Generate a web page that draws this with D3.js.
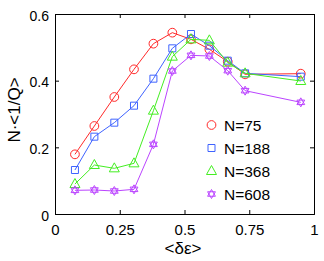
<!DOCTYPE html>
<html>
<head>
<meta charset="utf-8">
<script src="https://cdn.jsdelivr.net/npm/d3@7"></script>
<style>
  body { margin: 0; background: #fff; }
  text { font-family: "Liberation Sans", Arial, sans-serif; }
</style>
</head>
<body>
<svg width="324" height="261"></svg>
<script>
// x positions shared by every series
var xValues = [0.077, 0.152, 0.229, 0.305, 0.38, 0.453, 0.525, 0.596, 0.667, 0.734, 0.949];
var seriesNames = ["N=75", "N=188", "N=368", "N=608"];
var n75  = [0.179, 0.264, 0.351, 0.434, 0.511, 0.544, 0.524, 0.494, 0.457, 0.419, 0.421];
var n188 = [0.132, 0.232, 0.274, 0.325, 0.406, 0.497, 0.540, 0.505, 0.460, 0.422, 0.412];
var n368 = [0.090, 0.147, 0.137, 0.152, 0.310, 0.472, 0.524, 0.521, 0.454, 0.422, 0.399];
var n608 = [0.071, 0.072, 0.069, 0.074, 0.209, 0.429, 0.476, 0.474, 0.430, 0.370, 0.335];
var xTicks = [0, 0.25, 0.5, 0.75, 1];
var yTicks = [0, 0.2, 0.4, 0.6];

var colors = ["#ff2a2a", "#3f63ff", "#44ee22", "#bb44ff"];
var shapes = ["circle", "square", "triangle", "star"];

var margin = {top: 14, right: 10, bottom: 47, left: 55},
    width = 314 - margin.left,
    height = 214 - margin.top;

var svg = d3.select("svg")
  .append("g")
  .attr("transform", "translate(" + margin.left + "," + margin.top + ")");

var x = d3.scaleLinear().domain([0, 1]).range([0, width]);
var y = d3.scaleLinear().domain([0, 0.6]).range([height, 0]);

var fmt = function (d) { return d === 0 ? "0" : d === 1 ? "1" : String(d); };

// axes, ticks pointing inward
var xAxis = svg.append("g")
  .attr("transform", "translate(0," + height + ")")
  .call(d3.axisBottom(x).tickValues(xTicks).tickSize(-4).tickPadding(10).tickFormat(fmt));
svg.append("g")
  .call(d3.axisTop(x).tickValues(xTicks).tickSize(-4).tickFormat(""));
var yAxis = svg.append("g")
  .call(d3.axisLeft(y).tickValues(yTicks).tickSize(-4).tickPadding(6).tickFormat(fmt));
svg.append("g")
  .attr("transform", "translate(" + width + ",0)")
  .call(d3.axisRight(y).tickValues(yTicks).tickSize(-4).tickFormat(""));

svg.selectAll(".domain").attr("stroke", "#000");
svg.selectAll(".tick line").attr("stroke", "#000");
svg.selectAll(".tick text").attr("fill", "#000")
  .style("font-family", "Liberation Sans, Arial, sans-serif");
xAxis.selectAll(".tick text").attr("font-size", 15);
yAxis.selectAll(".tick text").attr("font-size", 14).attr("dy", "0.45em");

function markerPath(shape) {
  if (shape === "circle") return d3.symbol(d3.symbolCircle, 60)();
  if (shape === "square") return "M-3.5,-3.5H3.5V3.5H-3.5Z";
  if (shape === "triangle") return "M0,-5.5L5,3.5L-5,3.5Z";
  // hexagram
  return "M0,-4.5L3.9,2.25L-3.9,2.25Z M0,4.5L3.9,-2.25L-3.9,-2.25Z";
}

var allSeries = [n75, n188, n368, n608];
var line = d3.line()
  .x(function (d) { return x(d[0]); })
  .y(function (d) { return y(d[1]); });

allSeries.forEach(function (vals, i) {
  var pts = xValues.map(function (xv, j) { return [xv, vals[j]]; });
  svg.append("path")
    .datum(pts)
    .attr("fill", "none")
    .attr("stroke", colors[i])
    .attr("stroke-width", 1)
    .attr("d", line);
  svg.selectAll(".m" + i)
    .data(pts)
    .enter().append("path")
    .attr("class", "m" + i)
    .attr("transform", function (d) { return "translate(" + x(d[0]) + "," + y(d[1]) + ")"; })
    .attr("d", markerPath(shapes[i]))
    .attr("fill", "none")
    .attr("stroke", colors[i])
    .attr("stroke-width", 1);
});

// legend
var legend = svg.append("g").attr("transform", "translate(156.5,111)");
seriesNames.forEach(function (name, i) {
  var g = legend.append("g").attr("transform", "translate(0," + (i * 23) + ")");
  g.append("path")
    .attr("d", markerPath(shapes[i]))
    .attr("fill", "none")
    .attr("stroke", colors[i]);
  g.append("text")
    .attr("x", 12.5)
    .attr("y", 5.5)
    .attr("font-size", 15.5)
    .text(name);
});

// axis labels
d3.select("svg").append("text")
  .attr("x", 183)
  .attr("y", 254)
  .attr("text-anchor", "middle")
  .attr("font-size", 17)
  .text("<δε>");

d3.select("svg").append("text")
  .attr("transform", "translate(20,110) rotate(-90)")
  .attr("text-anchor", "middle")
  .attr("font-size", 17)
  .text("N·<1/Q>");
</script>
</body>
</html>
